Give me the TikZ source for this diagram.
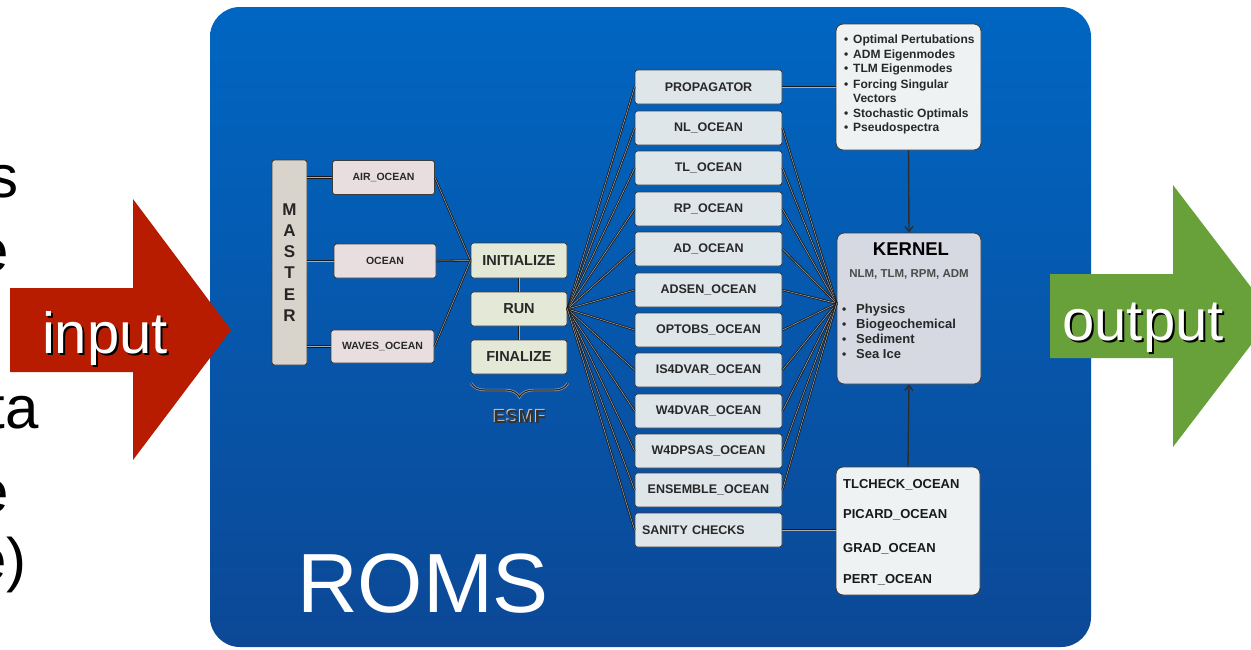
\documentclass[tikz,border=0pt]{standalone}
\usepackage{fontspec}
\setmainfont{Liberation Sans}
\usetikzlibrary{arrows.meta,decorations.pathreplacing}
\definecolor{bluetop}{RGB}{0,102,194}
\definecolor{bluebot}{RGB}{12,72,150}
\definecolor{inred}{RGB}{183,27,0}
\definecolor{outgreen}{RGB}{104,160,58}
\definecolor{masterfill}{RGB}{216,212,203}
\definecolor{sidefill}{RGB}{232,222,224}
\definecolor{esmffill}{RGB}{228,232,214}
\definecolor{propfill}{RGB}{222,230,233}
\definecolor{listfill}{RGB}{238,242,243}
\definecolor{kernfill}{RGB}{214,216,226}
\definecolor{edge}{RGB}{60,60,60}
\definecolor{dtext}{RGB}{40,40,40}
\begin{document}
\begin{tikzpicture}[x=1pt,y=-1pt,
  box/.style={draw=edge, line width=0.9pt, rounded corners=2.5pt, inner sep=0pt,
    text=dtext, font=\bfseries\fontsize{12.5}{15}\selectfont},
  sidebox/.style={box, fill=sidefill, minimum width=102pt, minimum height=34pt,
    font=\bfseries\fontsize{10.5}{12}\selectfont},
  esmfbox/.style={box, fill=esmffill, minimum width=96pt, minimum height=34pt,
    font=\bfseries\fontsize{14.5}{16}\selectfont},
  propbox/.style={box, fill=propfill, minimum width=147pt, minimum height=34pt},
  bigbox/.style={box, rounded corners=7pt},
  conn/.style={draw=black!90, double=gray!65, double distance=0.5pt, line width=0.8pt},
  vconn/.style={draw=gray!35!black, line width=1.4pt, -{Straight Barb[length=5pt,width=8pt]}},
  bigtxt/.style={font=\fontsize{58}{60}\selectfont, inner sep=0pt, anchor=base},
  lst/.style={inner sep=0pt, anchor=base west, text=dtext, font=\bfseries\fontsize{12}{14}\selectfont},
  klst/.style={inner sep=0pt, anchor=base west, text=dtext, font=\bfseries\fontsize{13}{15}\selectfont},
  blst/.style={inner sep=0pt, anchor=base west, text=black!90, font=\bfseries\fontsize{13}{15}\selectfont},
  bul/.style={inner sep=0pt, anchor=base west, text=dtext, font=\bfseries\fontsize{12}{14}\selectfont}
]
\useasboundingbox (0,0) rectangle (1251,649);
\clip (0,0) rectangle (1251,649);
\fill[white] (0,0) rectangle (1251,649);

% clipped slide text at the left edge
\node[bigtxt, anchor=base east, font=\fontsize{60}{62}\selectfont] (frag1) at (19,197) {s};
\node[bigtxt, anchor=base east, font=\fontsize{60}{62}\selectfont] (frag2) at (9,271) {e};
\node[bigtxt, anchor=base east, font=\fontsize{60}{62}\selectfont] (frag3) at (39,428) {ta};
\node[bigtxt, anchor=base east, font=\fontsize{60}{62}\selectfont] (frag4) at (9,512) {e};
\node[bigtxt, anchor=base east, font=\fontsize{60}{62}\selectfont] (frag5) at (27,580) {e)};

% main ROMS panel
\shade[top color=bluetop, bottom color=bluebot, rounded corners=30pt] (210,7) rectangle (1091,647);

% input arrow
\fill[inred] (10,288) -- (133,288) -- (133,199) -- (231,330) -- (133,460) -- (133,372) -- (10,372) -- cycle;
\node[bigtxt, text=black] (inshadow) at (107,355) {input};
\node[bigtxt, text=white] (inlbl) at (105,353) {input};

% output arrow
\fill[outgreen] (1050,274) -- (1173,274) -- (1173,185) -- (1273,316) -- (1173,447) -- (1173,358) -- (1050,358) -- cycle;
\node[bigtxt, text=black] (outshadow) at (1145,342) {output};
\node[bigtxt, text=white] (outlbl) at (1143,340) {output};

\node[inner sep=0pt, anchor=base, text=white, font=\fontsize{84}{86}\selectfont] (roms) at (423,612) {ROMS};

% MASTER and coupled models
\node[box, fill=masterfill, minimum width=35pt, minimum height=205pt, align=center, text=black!85,
  font=\bfseries\fontsize{17}{21.2}\selectfont] (master) at (289.5,262.5) {M\\A\\S\\T\\E\\R};
\node[sidebox] (air) at (383.5,177.5) {AIR\_OCEAN};
\node[sidebox] (ocean) at (385,261) {OCEAN};
\node[sidebox, minimum width=103pt, minimum height=33pt] (waves) at (382.5,346.5) {WAVES\_OCEAN};

\node[esmfbox, minimum height=35pt] (init) at (519,260.5) {INITIALIZE};
\node[esmfbox] (run) at (519,309) {RUN};
\node[esmfbox] (fin) at (519,357) {FINALIZE};

\foreach \n in {air,ocean,waves}{
  \draw[conn] (master.east |- \n.west) -- (\n.west);
  \draw[conn] (\n.east) -- (init.west);
}
\draw[conn] (init.south) -- (run.north);
\draw[conn] (run.south) -- (fin.north);

\coordinate (bl) at (471,383);
\coordinate (br) at (568,383);
\draw[decorate, decoration={brace, mirror, amplitude=14pt}, draw=gray!70, line width=2.4pt] (bl) -- (br);
\draw[decorate, decoration={brace, mirror, amplitude=14pt}, draw=black!85, line width=1.1pt] (bl) -- (br);
\node[inner sep=0pt, text=gray!45, font=\bfseries\fontsize{19}{20}\selectfont] (esmfsh) at (519,416) {ESMF};
\node[inner sep=0pt, text=black!80, font=\bfseries\fontsize{19}{20}\selectfont] (esmf) at (520,417) {ESMF};

% driver column
\foreach \n/\t/\y in {prop/PROPAGATOR/87, nl/NL\_OCEAN/128, tl/TL\_OCEAN/168, rp/RP\_OCEAN/209,
  ad/AD\_OCEAN/249, adsen/ADSEN\_OCEAN/290, optobs/OPTOBS\_OCEAN/330, isvar/IS4DVAR\_OCEAN/370,
  wvar/W4DVAR\_OCEAN/411, wpsas/W4DPSAS\_OCEAN/451, ens/ENSEMBLE\_OCEAN/490}{
  \node[propbox] (\n) at (708.5,\y) {\t};
}
\node[propbox, text width=133pt, align=left] (sanity) at (708.5,530) {SANITY CHECKS};

% kernel and side lists
\node[bigbox, fill=kernfill, minimum width=144pt, minimum height=151pt] (kernel) at (909,308.5) {};
\node[bigbox, fill=listfill, minimum width=145pt, minimum height=126pt] (topbox) at (908.5,87) {};
\node[bigbox, fill=listfill, minimum width=144pt, minimum height=128pt] (botbox) at (908,531) {};
\coordinate (kin) at ([yshift=5pt]kernel.west);

\foreach \n in {prop,nl,tl,rp,ad,adsen,optobs,isvar,wvar,wpsas,ens,sanity}{
  \draw[conn] (run.east) -- (\n.west);
}
\foreach \n in {nl,tl,rp,ad,adsen,optobs,isvar,wvar,wpsas,ens}{
  \draw[conn] (\n.east) -- (kin);
}
\draw[conn] (prop.east) -- (prop.east -| topbox.west);
\draw[conn] (sanity.east) -- (sanity.east -| botbox.west);
\draw[vconn] (topbox.south) -- (kernel.north);
\draw[vconn] (botbox.north) -- (kernel.south);

% kernel text
\node[inner sep=0pt, text=black, font=\bfseries\fontsize{18.5}{20}\selectfont] (ktitle) at (911,249) {KERNEL};
\node[inner sep=0pt, text=black!70, font=\bfseries\fontsize{11.5}{13}\selectfont] (ksub) at (909,274) {NLM, TLM, RPM, ADM};
\foreach \n/\t/\y in {kb1/Physics/313, kb2/Biogeochemical/328, kb3/Sediment/343, kb4/Sea Ice/358}{
  \node[klst, font=\bfseries\fontsize{12}{14}\selectfont] (\n d) at (842,\y) {\textbullet};
  \node[klst] (\n) at (856,\y) {\t};
}

% top list
\foreach \n/\t/\y in {tb1/Optimal Pertubations/43.3, tb2/ADM Eigenmodes/58.3, tb3/TLM Eigenmodes/72.3,
  tb4/Forcing Singular/88.3, tb6/Stochastic Optimals/117.3, tb7/Pseudospectra/131.3}{
  \node[bul] (\n d) at (844,\y) {\textbullet};
  \node[lst] (\n) at (853,\y) {\t};
}
\node[lst] (tb5) at (853,102.3) {Vectors};

% bottom list
\foreach \n/\t/\y in {bb1/TLCHECK\_OCEAN/488.7, bb2/PICARD\_OCEAN/518.7, bb3/GRAD\_OCEAN/552.7, bb4/PERT\_OCEAN/583.7}{
  \node[blst] (\n) at (843,\y) {\t};
}
\end{tikzpicture}
\end{document}
